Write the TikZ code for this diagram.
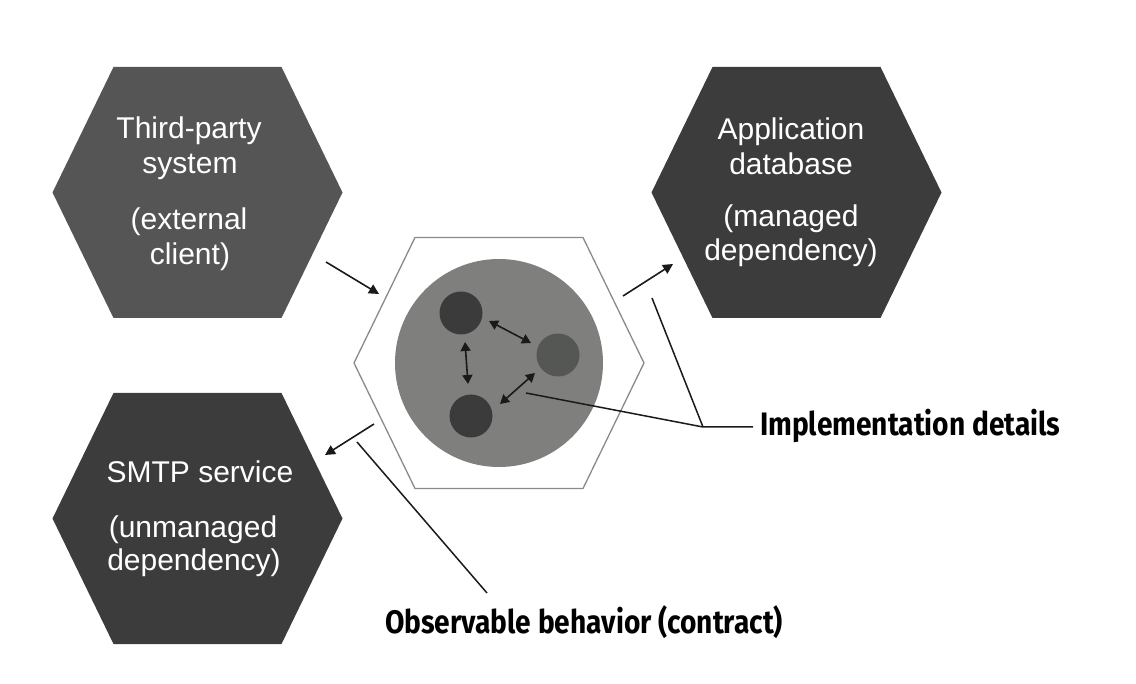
\documentclass[tikz,border=0pt]{standalone}
\usepackage{fontspec}
\usetikzlibrary{arrows.meta}
\newfontfamily\hexfont{Liberation Sans}
\newfontfamily\labfont[FakeStretch=0.865]{Fira Sans}
\definecolor{hexmid}{HTML}{555555}
\definecolor{hexdark}{HTML}{3C3C3C}
\definecolor{coregray}{HTML}{7F807E}
\definecolor{unitmid}{HTML}{555755}
\definecolor{unitdark}{HTML}{3B3B3B}
\definecolor{outline}{HTML}{8A8A8A}
\definecolor{ink}{HTML}{1A1A1A}
\tikzset{
  hexa/.pic={\path[pic actions] (-145,0) -- (-84,-125.5) -- (84,-125.5) -- (145,0) -- (84,125.5) -- (-84,125.5) -- cycle;},
  hextext/.style={text=white, font=\hexfont\fontsize{30}{34}\selectfont, anchor=base, inner sep=0pt},
  labtext/.style={text=black, font=\labfont\bfseries\fontsize{32.5}{38}\selectfont, anchor=base west, inner sep=0pt},
  arr/.style={draw=ink, line width=1.6pt, -{Triangle[length=10pt,width=10pt]}},
  dbl/.style={draw=ink, line width=1.6pt, {Triangle[length=9pt,width=10pt]}-{Triangle[length=9pt,width=10pt]}},
  pointer/.style={draw=ink, line width=1.5pt},
  unit/.style={circle, inner sep=0pt, minimum size=43pt},
}
\begin{document}
\begin{tikzpicture}[x=1pt,y=-1pt]
\useasboundingbox (0,0) rectangle (1136,684);
% hexagons
\pic[fill=hexmid] at (197.5,192.5) {hexa};
\pic[fill=hexdark] at (796.5,192.5) {hexa};
\pic[fill=hexdark] at (197.5,518.5) {hexa};
\pic[fill=white, draw=outline, line width=1.3pt] at (499,363) {hexa};
% core
\node[circle, fill=coregray, inner sep=0pt, minimum size=208pt] (core) at (499,363) {};
\node[unit, fill=unitdark] (u1) at (461,313) {};
\node[unit, fill=unitmid] (u2) at (558,355) {};
\node[unit, fill=unitdark] (u3) at (471,416) {};
% hexagon texts
\node[hextext] (tl1) at (189,139) {Third-party};
\node[hextext] (tl2) at (190,174) {system};
\node[hextext] (tl3) at (189,230) {(external};
\node[hextext] (tl4) at (190,265) {client)};
\node[hextext] (tr1) at (791,140) {Application};
\node[hextext] (tr2) at (791,175) {database};
\node[hextext] (tr3) at (791,227) {(managed};
\node[hextext] (tr4) at (791,261) {dependency)};
\node[hextext] (bl1) at (200,483) {SMTP service};
\node[hextext] (bl2) at (193,537) {(unmanaged};
\node[hextext] (bl3) at (194,570) {dependency)};
% coordinates
\coordinate (inA) at (326,262);
\coordinate (inB) at (379,294);
\coordinate (trA) at (623,296);
\coordinate (trB) at (673,264);
\coordinate (blA) at (374,424);
\coordinate (blB) at (325,455);
\coordinate (d1a) at (489,321);
\coordinate (d1b) at (531,343);
\coordinate (d2a) at (465,342);
\coordinate (d2b) at (468,384);
\coordinate (d3a) at (535,373);
\coordinate (d3b) at (500,404);
\coordinate (impA) at (526,393);
\coordinate (impB) at (652,298);
\coordinate (impJ) at (703,427);
\coordinate (impE) at (753,427);
\coordinate (obsA) at (357,442);
\coordinate (obsB) at (487,593);
% arrows
\draw[arr] (inA) -- (inB);
\draw[arr] (trA) -- (trB);
\draw[arr] (blA) -- (blB);
\draw[dbl] (d1a) -- (d1b);
\draw[dbl] (d2a) -- (d2b);
\draw[dbl] (d3a) -- (d3b);
% pointers
\draw[pointer] (impA) -- (impJ) -- (impE);
\draw[pointer] (impB) -- (impJ);
\draw[pointer] (obsA) -- (obsB);
% labels
\node[labtext] (impl) at (760,436) {Implementation details};
\node[labtext] (obs) at (385,633) {Observable behavior (contract)};
\end{tikzpicture}
\end{document}
